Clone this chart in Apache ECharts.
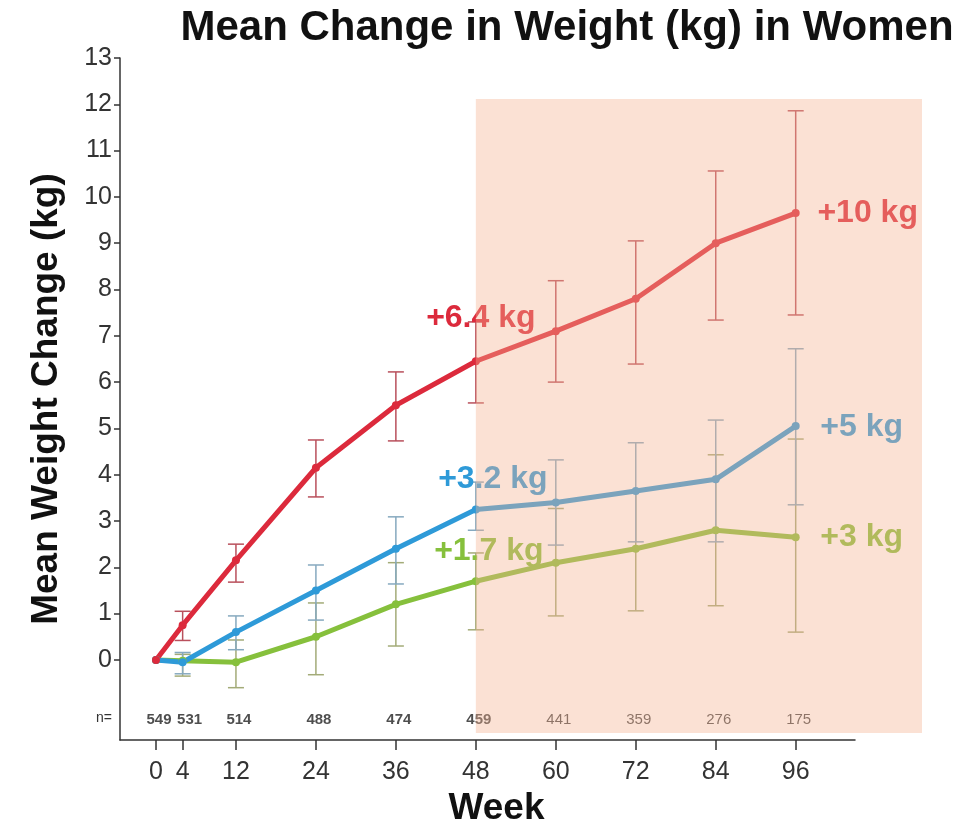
<!DOCTYPE html>
<html>
<head>
<meta charset="utf-8">
<script src="https://cdn.jsdelivr.net/npm/echarts@6/dist/echarts.min.js"></script>
<style>
  html, body { margin: 0; padding: 0; background: #fff; }
  #chart { width: 973px; height: 836px; }
</style>
</head>
<body>
<div id="chart"></div>
<script>
// weeks on study
var weeks = [0, 4, 12, 24, 36, 48, 60, 72, 84, 96];
var nCounts = [549, 531, 514, 488, 474, 459, 441, 359, 276, 175];
var yTicks = [0, 1, 2, 3, 4, 5, 6, 7, 8, 9, 10, 11, 12, 13];

// mean change (kg) and error bar ends, per group
var redMean = [0, 0.75, 2.15, 4.15, 5.5, 6.45, 7.1, 7.8, 9.0, 9.65];
var redLow = [null, 0.42, 1.68, 3.52, 4.73, 5.55, 6.0, 6.39, 7.34, 7.45];
var redHigh = [null, 1.05, 2.5, 4.75, 6.22, 7.3, 8.19, 9.05, 10.56, 11.86];

var blueMean = [0, -0.05, 0.6, 1.5, 2.4, 3.25, 3.4, 3.65, 3.9, 5.05];
var blueLow = [null, -0.3, 0.22, 0.86, 1.64, 2.8, 2.48, 2.55, 2.55, 3.35];
var blueHigh = [null, 0.16, 0.95, 2.05, 3.09, 3.84, 4.32, 4.69, 5.18, 6.72];

var greenMean = [0, -0.02, -0.05, 0.5, 1.2, 1.7, 2.1, 2.4, 2.8, 2.65];
var greenLow = [null, -0.35, -0.6, -0.32, 0.3, 0.65, 0.95, 1.06, 1.17, 0.6];
var greenHigh = [null, 0.12, 0.43, 1.23, 2.1, 2.31, 3.27, 3.65, 4.43, 4.77];

var redNotes = ['', '', '', '', '', '+6.4 kg', '', '', '', '+10 kg'];
var blueNotes = ['', '', '', '', '', '+3.2 kg', '', '', '', '+5 kg'];
var greenNotes = ['', '', '', '', '', '+1.7 kg', '', '', '', '+3 kg'];

var shadeStart = 48; // extension phase

var FONT = 'Liberation Sans, Arial, sans-serif';
var X_MIN = -5.4, X_MAX = 104.9;
var Y_MIN = -1.73, Y_MAX = 13;
var N_ROW = -1.25;

var chart = echarts.init(document.getElementById('chart'), null, { renderer: 'canvas' });

function lineData(mean, notes, offsets) {
  return weeks.map(function (w, i) {
    var item = { value: [w, mean[i]] };
    if (notes[i]) {
      var off = i === weeks.length - 1 ? offsets[1] : offsets[0];
      item.label = { show: true, formatter: notes[i], offset: off };
    }
    return item;
  });
}

function errData(low, high) {
  var out = [];
  weeks.forEach(function (w, i) {
    if (low[i] != null) out.push([w, low[i], high[i]]);
  });
  return out;
}

function errRender(color) {
  return function (params, api) {
    var x = api.value(0);
    var lo = api.coord([x, api.value(1)]);
    var hi = api.coord([x, api.value(2)]);
    var cap = 8;
    var st = { stroke: color, lineWidth: 1.5 };
    return {
      type: 'group',
      children: [
        { type: 'line', shape: { x1: lo[0], y1: lo[1], x2: hi[0], y2: hi[1] }, style: st },
        { type: 'line', shape: { x1: lo[0] - cap, y1: lo[1], x2: lo[0] + cap, y2: lo[1] }, style: st },
        { type: 'line', shape: { x1: hi[0] - cap, y1: hi[1], x2: hi[0] + cap, y2: hi[1] }, style: st }
      ]
    };
  };
}

function lineSeries(name, mean, notes, offsets, color) {
  return {
    name: name,
    type: 'line',
    xAxisIndex: 0,
    yAxisIndex: 0,
    z: 4,
    data: lineData(mean, notes, offsets),
    symbol: 'circle',
    symbolSize: 8,
    lineStyle: { color: color, width: 5 },
    itemStyle: { color: color },
    label: {
      show: false,
      position: 'inside',
      color: color,
      fontFamily: FONT,
      fontWeight: 'bold',
      fontSize: 32
    }
  };
}

function errSeries(low, high, color) {
  return {
    type: 'custom',
    xAxisIndex: 0,
    yAxisIndex: 0,
    z: 3,
    data: errData(low, high),
    renderItem: errRender(color),
    silent: true
  };
}

var axisStyle = { lineStyle: { color: '#333', width: 1.5 } };

var option = {
  animation: false,
  backgroundColor: '#fff',
  title: {
    text: 'Mean Change in Weight (kg) in Women',
    left: 562,
    textAlign: 'center',
    top: 2,
    textStyle: { fontFamily: FONT, fontSize: 42, fontWeight: 'bold', color: '#111' }
  },
  grid: [
    { left: 120, right: 118, top: 58, bottom: 96 },
    { left: 120, right: 51, top: 99, bottom: 103 }
  ],
  xAxis: [
    {
      type: 'value',
      gridIndex: 0,
      min: X_MIN,
      max: X_MAX,
      name: 'Week',
      nameLocation: 'middle',
      nameGap: 50,
      nameTextStyle: { fontFamily: FONT, fontSize: 37, fontWeight: 'bold', color: '#111', padding: [0, 0, 0, 18] },
      axisLine: { show: true, onZero: false, lineStyle: axisStyle.lineStyle },
      axisTick: { show: true, length: 10, lineStyle: axisStyle.lineStyle, customValues: weeks },
      axisLabel: { margin: 20, fontFamily: FONT, fontSize: 25, color: '#333', customValues: weeks },
      splitLine: { show: false }
    },
    {
      type: 'value',
      gridIndex: 1,
      min: X_MIN,
      max: X_MIN + (X_MAX - X_MIN) * 802 / 735,
      show: false
    }
  ],
  yAxis: [
    {
      type: 'value',
      gridIndex: 0,
      min: Y_MIN,
      max: Y_MAX,
      name: 'Mean Weight Change (kg)',
      nameLocation: 'middle',
      nameRotate: 90,
      nameGap: 55,
      nameTextStyle: { fontFamily: FONT, fontSize: 37, fontWeight: 'bold', color: '#111' },
      axisLine: { show: true, onZero: false, lineStyle: axisStyle.lineStyle },
      axisTick: { show: true, length: 6, lineStyle: axisStyle.lineStyle, customValues: yTicks },
      axisLabel: {
        margin: 8,
        fontFamily: FONT,
        fontSize: 25,
        color: '#333',
        customValues: [N_ROW].concat(yTicks),
        formatter: function (v) { return v < 0 ? '{n|n=}' : String(v); },
        rich: { n: { fontFamily: FONT, fontSize: 14, color: '#333', padding: [0, 0, 0, 0] } }
      },
      splitLine: { show: false }
    },
    { type: 'value', gridIndex: 1, min: 0, max: 1, show: false }
  ],
  series: [
    errSeries(greenLow, greenHigh, '#a3ab78'),
    errSeries(blueLow, blueHigh, '#86a9bf'),
    errSeries(redLow, redHigh, '#b9505c'),
    lineSeries('green', greenMean, greenNotes, [[13, -30], [66, 0]], '#86c03c'),
    lineSeries('blue', blueMean, blueNotes, [[17, -30], [66, 1]], '#2e9ad8'),
    lineSeries('red', redMean, redNotes, [[5, -43], [72, 0]], '#dc2a3c'),
    {
      type: 'scatter',
      xAxisIndex: 0,
      yAxisIndex: 0,
      z: 2,
      symbolSize: 0,
      silent: true,
      data: weeks.map(function (w, i) {
        return {
          value: [w, N_ROW],
          label: {
            show: true,
            position: 'inside',
            formatter: String(nCounts[i]),
            offset: [i === 1 ? 7 : 3, 2],
            fontFamily: FONT,
            fontSize: 15,
            fontWeight: w <= shadeStart ? 'bold' : 'normal',
            color: '#222'
          }
        };
      })
    },
    {
      type: 'custom',
      xAxisIndex: 1,
      yAxisIndex: 1,
      z: 10,
      silent: true,
      data: [[shadeStart]],
      renderItem: function (params, api) {
        var cs = params.coordSys;
        var x0 = api.coord([api.value(0), 0])[0];
        return {
          type: 'rect',
          shape: { x: x0, y: cs.y, width: cs.x + cs.width - x0, height: cs.height },
          style: { fill: 'rgba(245,178,145,0.39)' }
        };
      }
    }
  ]
};

chart.setOption(option);
</script>
</body>
</html>
